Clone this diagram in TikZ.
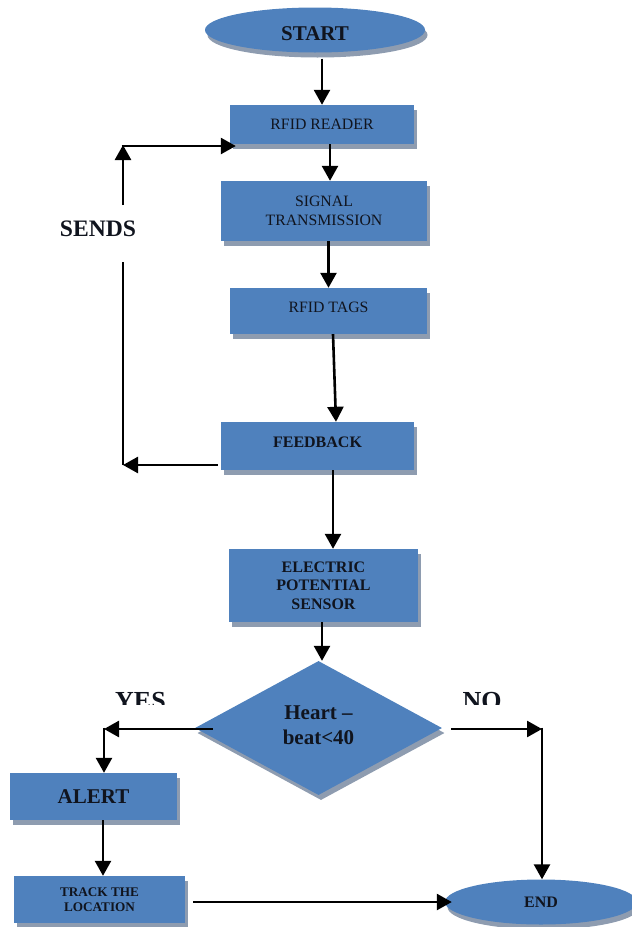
\documentclass[tikz,border=0pt]{standalone}
\usepackage{fontspec}
\setmainfont{Liberation Serif}
\usetikzlibrary{arrows.meta,shapes.geometric,shadows}
\definecolor{boxblue}{RGB}{79,129,189}
\definecolor{shadowc}{RGB}{142,156,176}
\definecolor{txt}{RGB}{16,20,30}
\begin{document}
\begin{tikzpicture}[x=1pt,y=-1pt,
  shad/.style={drop shadow={shadow xshift=2.5pt,shadow yshift=-5pt,fill=shadowc,opacity=1}},
  blk/.style={rectangle,fill=boxblue,draw=none,shad,inner sep=0pt,align=center,text=txt},
  oval/.style={ellipse,fill=boxblue,draw=none,shad,inner sep=0pt,align=center,text=txt},
  reg/.style={font=\fontsize{15.8}{19}\selectfont},
  arr/.style={line width=2.6pt,-{Triangle[length=15pt,width=16pt]}},
  ln/.style={line width=2.6pt}]
\useasboundingbox (0,0) rectangle (632,927);
\begin{scope}
\clip (0,0) rectangle (632,927);
% nodes
\node[oval,minimum width=220pt,minimum height=45pt,font=\bfseries\fontsize{21}{24}\selectfont,text depth=0pt,text height=20pt] (start) at (315,30) {START};
\node[blk,reg,minimum width=184pt,minimum height=39pt] (reader) at (322,124.5) {RFID READER};
\node[blk,reg,minimum width=206pt,minimum height=60pt] (signal) at (324,211) {SIGNAL\\TRANSMISSION};
\node[blk,reg,minimum width=197pt,minimum height=46pt,text depth=8pt] (tags) at (328.5,311) {RFID TAGS};
\node[blk,minimum width=193pt,minimum height=48pt,font=\bfseries\fontsize{16}{19}\selectfont,text depth=8pt] (feedback) at (317.5,446) {FEEDBACK};
\node[blk,minimum width=189pt,minimum height=73pt,font=\bfseries\fontsize{16}{18.5}\selectfont] (eps) at (323.5,585.5) {ELECTRIC\\POTENTIAL\\SENSOR};
\node[diamond,fill=boxblue,draw=none,shad,inner sep=0pt,aspect=1.84,minimum width=247pt,minimum height=134pt,align=center,text=txt,font=\bfseries\fontsize{21}{25}\selectfont] (dec) at (318.5,728) {Heart --\\beat<40\\[-19pt]\mbox{}};
\node[blk,minimum width=167pt,minimum height=47pt,font=\bfseries\fontsize{21}{24}\selectfont] (alert) at (93.5,796.5) {ALERT};
\node[blk,minimum width=171pt,minimum height=47pt,font=\bfseries\fontsize{13.2}{15}\selectfont] (track) at (99.5,899.5) {TRACK THE\\LOCATION};
\node[oval,minimum width=192pt,minimum height=45pt,font=\bfseries\fontsize{16}{19}\selectfont] (end) at (541,902) {END};
\node[text=txt,font=\bfseries\fontsize{23.6}{26}\selectfont] (sends) at (98,229) {SENDS};
% coordinates
\coordinate (lc) at (123,465);
\coordinate (ga) at (123,262);
\coordinate (gb) at (123,205);
\coordinate (lt) at (123,146);
\coordinate (yc) at (104,729);
\coordinate (nc) at (542,729);
% connectors
\draw[arr] ([yshift=-6pt]start.south -| reader.north) -- (reader.north);
\draw[arr] ([xshift=8pt]reader.south) -- ([xshift=8pt]reader.south |- signal.north);
\draw[arr] (signal.south -| tags.north) -- (tags.north);
\draw[arr] ([xshift=4.5pt]tags.south) -- ([xshift=18.5pt]feedback.north);
\draw[arr] ([xshift=-3pt,yshift=-19pt]feedback.west) -- (lc);
\draw[ln] (lc) -- (ga);
\draw[arr] (gb) -- ([yshift=1pt]lt);
\draw[arr] ([xshift=-1.3pt]lt) -- ([xshift=6pt,yshift=-21.5pt]reader.west);
\draw[arr] ([xshift=15.5pt]feedback.south) -- ([xshift=15.5pt]feedback.south |- eps.north);
\draw[arr] ([xshift=-1.5pt]eps.south) -- ([xshift=-1.5pt]eps.south |- dec.north);
\draw[arr] ([xshift=18pt,yshift=-1pt]dec.west) -- (yc);
\draw[arr] ([yshift=1.3pt]yc) -- (yc |- alert.north);
\draw[arr] ([xshift=9pt,yshift=-1pt]dec.east) -- (nc);
\draw[arr] ([yshift=1.3pt]nc) -- (nc |- end.north);
\draw[arr] ([xshift=9.5pt]alert.south) -- ([xshift=9.5pt]alert.south |- track.north);
\draw[arr] ([xshift=8pt]track.east |- end.west) -- ([xshift=7pt]end.west);
\end{scope}
\begin{scope}
\clip (100,680) rectangle (520,704);
\node[anchor=base,text=txt,font=\bfseries\fontsize{26}{30}\selectfont] (yes) at (140.5,709) {YES};
\node[anchor=base,text=txt,font=\bfseries\fontsize{26}{30}\selectfont] (no) at (482,709) {NO};
\end{scope}
\end{tikzpicture}
\end{document}
